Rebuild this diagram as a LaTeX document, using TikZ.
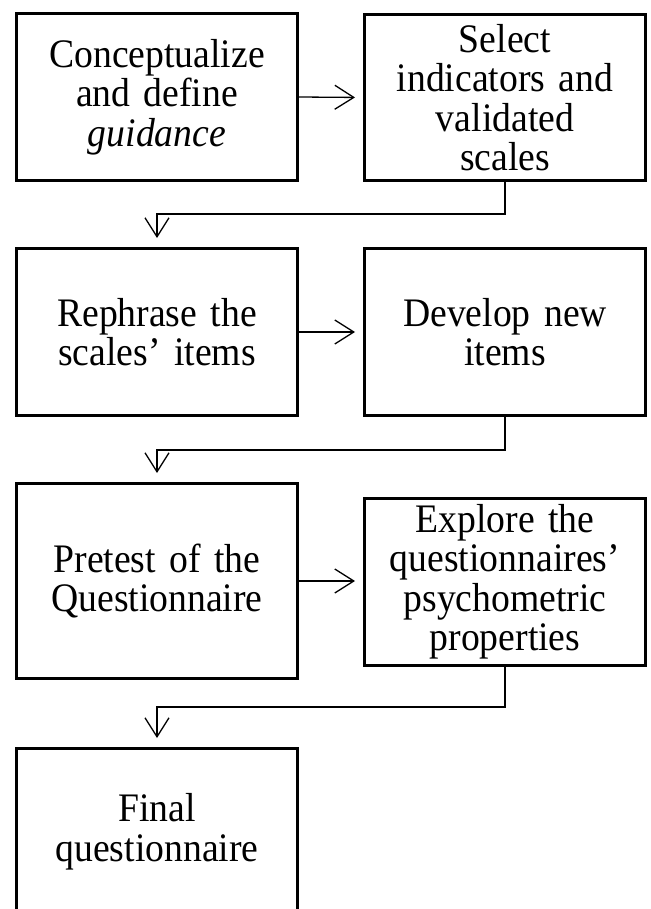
\documentclass[tikz,border=0pt]{standalone}
\usepackage{fontspec}
\setmainfont[FakeStretch=0.93,WordSpace=0.8]{Liberation Serif}
\usetikzlibrary{arrows.meta}
\tikzset{
  stepbox/.style={draw=black, line width=2.7pt, inner sep=0pt, align=center,
    minimum width=281.3pt, text width=275pt,
    font=\fontsize{40.5}{39.5}\selectfont},
  conn/.style={draw=black, line width=1.3pt,
    -{Straight Barb[length=19pt,width=24pt,line width=1.3pt]}},
}
\begin{document}
\begin{tikzpicture}[x=1pt,y=-1pt]
\useasboundingbox (0,0) rectangle (650,909);
\clip (0,0) rectangle (650,909);
\node[stepbox, minimum height=167.3pt] (b1) at (157,97) {Conceptualize\\and define\\\textit{guidance}};
\node[stepbox, minimum height=166.3pt] (b2) at (505,97.5) {Select\\indicators and\\validated\\scales};
\node[stepbox, minimum height=167.3pt] (b3) at (157,332) {Rephrase the\\scales’ items};
\node[stepbox, minimum height=167.3pt] (b4) at (505,332) {Develop new\\items};
\node[stepbox, minimum height=195.3pt] (b5) at (157,581) {Pretest of the\\Questionnaire};
\node[stepbox, minimum height=167.3pt] (b6) at (505,582) {Explore the\\questionnaires’\\psychometric\\properties};
\node[stepbox, minimum height=167.3pt] (b7) at (157,832) {Final\\questionnaire};
\draw[conn, shorten >=8pt] (b1.east) -- (b2.west);
\draw[conn, shorten >=8pt] (b3.east) -- (b4.west);
\draw[conn, shorten >=8pt] (b5.east) -- (b5.east -| b6.west);
\coordinate (j1) at (505,214);
\coordinate (j2) at (505,450);
\coordinate (j3) at (505,707);
\draw[conn, shorten >=9pt] (b2.south) -- (j1) -| (b3.north);
\draw[conn, shorten >=9pt] (b4.south) -- (j2) -| (b5.north);
\draw[conn, shorten >=9pt] (b6.south) -- (j3) -| (b7.north);
\end{tikzpicture}
\end{document}
